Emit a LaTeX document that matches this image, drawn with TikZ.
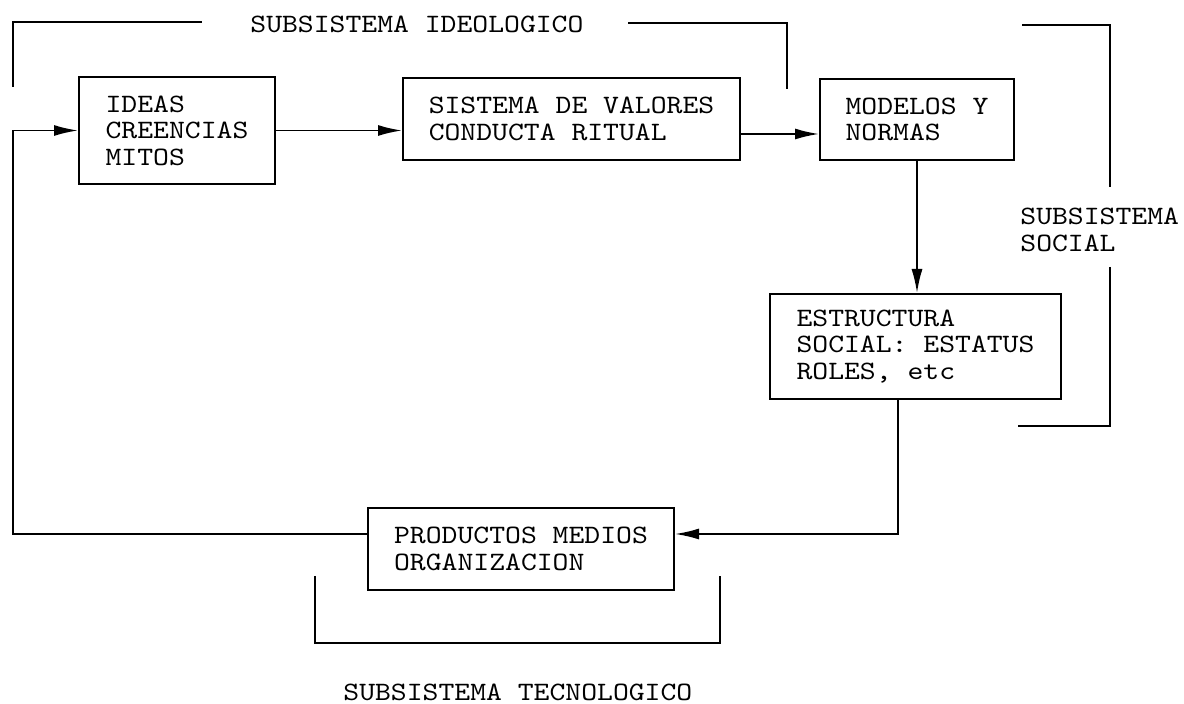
\documentclass[tikz,border=0pt]{standalone}
\usepackage{fontspec}
\usetikzlibrary{arrows.meta,calc}
\newfontfamily\typefont{lmmono10-regular.otf}[FakeStretch=1.14]
\begin{document}
\begin{tikzpicture}[x=0.5pt,y=-0.5pt,
  txt/.style={font=\typefont\fontsize{13.25pt}{13.25pt}\selectfont},
  box/.style={txt,draw,line width=1pt,anchor=north west,align=left,inner sep=0pt},
  arr/.style={line width=0.9pt,-{Latex[length=12pt,width=5.5pt]}},
  bracket/.style={line width=0.9pt},
  label/.style={txt,anchor=west,align=left,inner sep=0pt}]
  \fill[white] (0,0) rectangle (1184,704);
  \useasboundingbox (0,0) rectangle (1184,704);

  % boxes
  \node[box,minimum width=98pt,minimum height=53.5pt] (ideas) at (78,76)
    {IDEAS\\CREENCIAS\\MITOS};
  \node[box,minimum width=168.5pt,minimum height=41pt] (valores) at (402,77)
    {SISTEMA DE VALORES\\CONDUCTA RITUAL};
  \node[box,minimum width=97pt,minimum height=40.5pt] (modelos) at (819,78)
    {MODELOS Y\\NORMAS};
  \node[box,minimum width=145.5pt,minimum height=52.5pt] (estructura) at (769,293)
    {ESTRUCTURA\\SOCIAL: ESTATUS\\ROLES, etc};
  \node[box,minimum width=153pt,minimum height=41pt] (productos) at (367,507)
    {PRODUCTOS MEDIOS\\ORGANIZACION};

  % subsystem labels
  \node[label] (ideol) at (250,24) {SUBSISTEMA IDEOLOGICO};
  \node[label] (social) at (1020,230) {SUBSISTEMA\\SOCIAL};
  \node[label] (tecno) at (343,692) {SUBSISTEMA TECNOLOGICO};

  % flow
  \coordinate (loopx) at (13,0);
  \draw[arr] (ideas.east) -- (ideas.east -| valores.west);
  \draw[arr] ([yshift=-7.5pt]valores.east) -- ([yshift=-7.5pt]valores.east -| modelos.west);
  \draw[arr] (modelos.south) -- (modelos.south |- estructura.north);
  \draw[arr] ([xshift=-8.75pt]estructura.south) |- ([yshift=7.5pt]productos.east);
  \draw[arr] ([yshift=7.5pt]productos.west) -| (loopx |- ideas.west) -- (ideas.west);

  % subsystem brackets
  \draw[bracket] (13,87) |- (202,22);
  \draw[bracket] (628,23) -| (787,89);
  \draw[bracket] (1022,25) -| (1110,187);
  \draw[bracket] (1110,267) |- (1018,426);
  \draw[bracket] (315,576) |- (720,643) -- (720,576);
\end{tikzpicture}
\end{document}
